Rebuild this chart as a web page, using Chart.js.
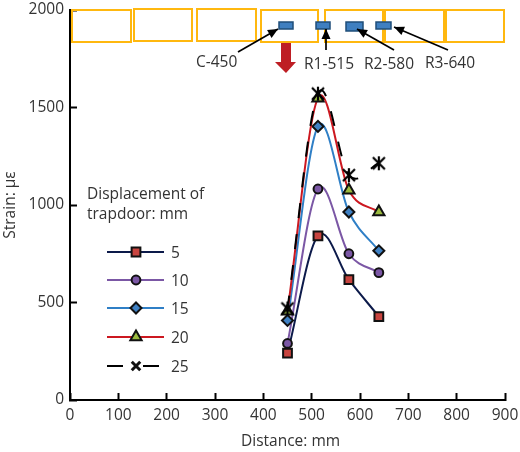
<!DOCTYPE html>
<html><head><meta charset="utf-8">
<style>html,body{margin:0;padding:0;background:#fff}#w{width:520px;height:452px;position:relative}</style>
<script src="https://cdn.jsdelivr.net/npm/chart.js@4"></script>
</head><body><div id="w"><canvas id="c" width="520" height="452"></canvas></div>
<script>
const distances=[450,513,577,639];
const s5=[240,842,617,428];
const s10=[290,1082,750,653];
const s15=[408,1403,964,765];
const s20=[455,1548,1076,964];
const s25=[469,1571,1153,1214];
const seriesNames=['5','10','15','20','25'];
const xTicks=[0,100,200,300,400,500,600,700,800,900];
const yTicks=[0,500,1000,1500,2000];
const FONT='"Open Sans","Noto Sans",sans-serif';
const TXT='#333';
const FS=15.5;
function pts(v){return v.map((y,i)=>({x:distances[i],y}));}
function starMark(){
 const k=document.createElement('canvas');k.width=18;k.height=18;
 const g=k.getContext('2d');g.strokeStyle='#000';g.lineWidth=2.2;g.beginPath();
 g.moveTo(3,3);g.lineTo(15,15);g.moveTo(15,3);g.lineTo(3,15);g.moveTo(9,2);g.lineTo(9,16);g.stroke();
 return k;
}
const styles=[
 {c:'#0c1a4a',f:'#c8443f',p:'rect',r:6.2},
 {c:'#7b57a5',f:'#7b57a5',p:'circle',r:4.4},
 {c:'#2f7fc6',f:'#3f81c4',p:'rectRot',r:5.5},
 {c:'#cc1820',f:'#9bbb3f',p:'triangle',r:6.5},
 {c:'#000',f:'#000',p:starMark(),r:8}
];
const all=[s5,s10,s15,s20,s25];
const datasets=all.map((v,i)=>({
 label:seriesNames[i],data:pts(v),showLine:true,order:4-i,
 borderColor:styles[i].c,borderWidth:2,borderDash:i===4?[15,16]:[],borderDashOffset:i===4?2:0,
 tension:0.4,
 pointStyle:styles[i].p,pointRadius:styles[i].r,
 pointBackgroundColor:styles[i].f,pointBorderColor:'#111',pointBorderWidth:2
}));

const panels=[[72,131,10,42],[134,192,9,41],[197,256,9,41],[261,318,10,42],[325,383,10,42],[385,444,10,42],[446,504,10,42]];
const gauges=[[279,293,22,29],[316,330,22,29],[346,363,22,31],[376,391,22,29]];
const notes=[['C-450',196,67],['R1-515',304,69],['R2-580',364,69],['R3-640',425,68]];
const leaders=[[238,52,278,29],[326,50,326,29],[394,50,357,29],[448,50,394,27]];
const legendRows=[252,280,308,337,366];
// Spreadsheet-style smoothing: tangent is (next - prev)/6 on both sides of a point
const smooth={id:'smooth',beforeDatasetsDraw(ch){
 ch.getSortedVisibleDatasetMetas().forEach(m=>{
  m.dataset.updateControlPoints(ch.chartArea,'x');
  const p=m.data,n=p.length;
  p.forEach((e,i)=>{
   const a=p[Math.max(i-1,0)],b=p[Math.min(i+1,n-1)];
   const k=(i===0||i===n-1)?1/3:1/6;
   const dx=(b.x-a.x)*k,dy=(b.y-a.y)*k;
   e.cp1x=e.x-dx;e.cp1y=e.y-dy;e.cp2x=e.x+dx;e.cp2y=e.y+dy;
  });
 });
}};
const draw={id:'deco',afterDatasetsDraw(ch){
 const g=ch.ctx;
 g.save();
 g.strokeStyle='#ffb80f';g.lineWidth=2;
 panels.forEach(r=>g.strokeRect(r[0],r[2],r[1]-r[0],r[3]-r[2]));
 g.fillStyle='#3f7fc0';g.strokeStyle='#1f4e79';g.lineWidth=1.5;
 gauges.forEach(r=>{g.fillRect(r[0],r[2],r[1]-r[0],r[3]-r[2]);g.strokeRect(r[0],r[2],r[1]-r[0],r[3]-r[2]);});
 g.fillStyle='#be1e24';g.beginPath();
 [[281,43],[291,43],[291,62],[296,62],[286,73],[275,62],[281,62]].forEach((p,i)=>i?g.lineTo(p[0],p[1]):g.moveTo(p[0],p[1]));g.closePath();g.fill();
 leaders.forEach(([x0,y0,x1,y1])=>{
  g.strokeStyle='#000';g.fillStyle='#000';g.lineWidth=1.7;g.beginPath();g.moveTo(x0,y0);g.lineTo(x1,y1);g.stroke();
  const a=Math.atan2(y1-y0,x1-x0),L=10,W=4.5;g.beginPath();g.moveTo(x1,y1);
  g.lineTo(x1-L*Math.cos(a)+W*Math.sin(a),y1-L*Math.sin(a)-W*Math.cos(a));
  g.lineTo(x1-L*Math.cos(a)-W*Math.sin(a),y1-L*Math.sin(a)+W*Math.cos(a));g.closePath();g.fill();
 });
 g.fillStyle=TXT;g.font=FS+'px '+FONT;g.textBaseline='alphabetic';g.textAlign='left';
 notes.forEach(n=>g.fillText(n[0],n[1],n[2]));
 g.fillText('Displacement of',87,199);g.fillText('trapdoor: mm',87,219);
 g.fillText('Distance: mm',241,446);
 legendRows.forEach((y,i)=>{const s=styles[i];
  g.strokeStyle=s.c;g.lineWidth=2;g.beginPath();
  if(i===4){g.moveTo(107,y);g.lineTo(123,y);g.moveTo(143,y);g.lineTo(159,y);}else{g.moveTo(107,y);g.lineTo(164,y);}
  g.stroke();
  g.fillStyle=s.f;g.strokeStyle='#111';g.lineWidth=i===4?3:2;
  Chart.helpers.drawPoint(g,{pointStyle:i===4?'crossRot':s.p,radius:i===4?6:s.r,rotation:0,borderWidth:g.lineWidth},136,y);
  g.fillStyle=TXT;g.fillText(seriesNames[i],171,y+6);
 });
 g.restore();
}};
const tickOpts={color:TXT,font:{family:FONT,size:FS},autoSkip:false,maxRotation:0,callback:v=>String(v)};
new Chart(document.getElementById('c'),{
 type:'scatter',data:{datasets},plugins:[smooth,draw],
 options:{responsive:false,animation:false,devicePixelRatio:1,
  layout:{padding:{top:8,right:15,left:0,bottom:0}},
  plugins:{legend:{display:false},tooltip:{enabled:false}},
  scales:{
   x:{type:'linear',min:0,max:900,position:'bottom',afterFit(a){a.height=52;a.paddingLeft=0;a.paddingRight=0;},
    afterBuildTicks(a){a.ticks=xTicks.map(value=>({value}));},
    grid:{drawOnChartArea:false,drawTicks:true,tickLength:-7,tickColor:'#000',tickWidth:2},
    border:{color:'#000',width:2},
    ticks:{...tickOpts,padding:13}},
   y:{type:'linear',min:0,max:2000,position:'left',afterFit(a){a.width=70;a.paddingTop=0;a.paddingBottom=0;},
    afterBuildTicks(a){a.ticks=yTicks.map(value=>({value}));},
    grid:{drawOnChartArea:false,drawTicks:true,tickLength:-7,tickColor:'#000',tickWidth:2},
    border:{color:'#000',width:2},
    ticks:{...tickOpts,padding:13},
    title:{display:true,text:'Strain: με',color:TXT,font:{family:FONT,size:FS},padding:{top:1,bottom:0}}}
  }
 }
});
</script></body></html>
